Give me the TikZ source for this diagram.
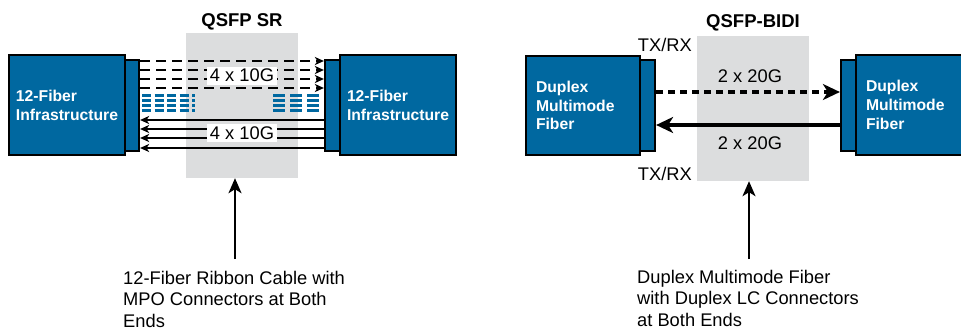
\documentclass[tikz,border=0pt]{standalone}
\usepackage{fontspec}
\setmainfont{Liberation Sans}
\usetikzlibrary{arrows.meta}
\definecolor{cblue}{RGB}{0,104,160}
\definecolor{cgray}{RGB}{220,221,222}
\begin{document}
\begin{tikzpicture}[x=1pt,y=-1pt,
  bigbox/.style={draw=black, line width=2.2pt, fill=cblue, text=white,
    font=\fontsize{15.7}{18.8}\selectfont\bfseries, align=left, inner ysep=0pt},
  connbox/.style={draw=black, line width=2.2pt, fill=cblue, inner sep=0pt},
  grayzone/.style={fill=cgray, draw=none, inner sep=0pt},
  titletext/.style={font=\fontsize{18.5}{20}\selectfont\bfseries, inner sep=0pt, anchor=base},
  plaintext/.style={font=\fontsize{18.3}{21.5}\selectfont, inner sep=0pt},
  ratelabel/.style={plaintext, fill=white, inner xsep=3pt, inner ysep=3pt, text height=12pt, text depth=0pt},
  thindash/.style={line width=2.3pt, dash pattern=on 10pt off 6pt, -{Stealth[length=9pt,width=8pt,inset=2.5pt]}},
  thinsolid/.style={line width=2.3pt, -{Stealth[length=9pt,width=8pt,inset=2.5pt]}},
  bluefiberA/.style={draw=cblue, line width=2.4pt, dash pattern=on 9pt off 3.5pt},
  bluefiberB/.style={draw=cblue, line width=2.4pt, dash pattern=on 12pt off 5pt},
  thickdash/.style={line width=4pt, dash pattern=on 7pt off 5pt, -{Stealth[length=17pt,width=16pt,inset=5pt]}},
  thicksolid/.style={line width=4pt, -{Stealth[length=17pt,width=16pt,inset=5pt]}},
  uparrow/.style={line width=2pt, -{Stealth[length=15pt,width=13pt,inset=4pt]}}
]
\clip (0,0) rectangle (961,330);

% ---------- left: QSFP SR ----------
\node[grayzone, minimum width=112pt, minimum height=145pt] (G1) at (242,105.5) {};
\node[titletext] (T1) at (242,26) {QSFP SR};

\node[connbox, minimum width=14pt, minimum height=91pt] (L1c) at (132,105.5) {};
\node[connbox, minimum width=15pt, minimum height=91pt] (R1c) at (332.5,105.5) {};

\foreach \yy in {61,70,79,88}
  \draw[thindash] (L1c.east |- 0,\yy) -- (R1c.west |- 0,\yy);
\foreach \yy in {120,129,138,148}
  \draw[thinsolid] (R1c.west |- 0,\yy) -- (L1c.east |- 0,\yy);
\foreach \yy in {95.5,100.5,105.5,110.5}{
  \draw[bluefiberA] ([xshift=2pt]L1c.east |- 0,\yy) -- (195,\yy);
  \draw[bluefiberB] (273,\yy) -- ([xshift=1pt]R1c.west |- 0,\yy);
}

\node[connbox, minimum width=14pt, minimum height=91pt] at (L1c) {};
\node[connbox, minimum width=15pt, minimum height=91pt] at (R1c) {};

\node[bigbox, minimum width=116pt, minimum height=100pt, text width=102pt, inner xsep=7pt]
  (L1) at (67,105) {12-Fiber\\Infrastructure};
\node[bigbox, minimum width=116pt, minimum height=100pt, text width=102pt, inner xsep=7pt]
  (R1) at (398,105) {12-Fiber\\Infrastructure};

\node[ratelabel] (r1) at (242,75.5) {4 x 10G};
\node[ratelabel] (r2) at (242,133.3) {4 x 10G};

\coordinate (a1) at (235,259);
\draw[uparrow] (a1) -- ([xshift=-7pt]G1.south);
\node[plaintext, anchor=north west, align=left] (c1) at (123,271)
  {12-Fiber Ribbon Cable with\\MPO Connectors at Both\\Ends};

% ---------- right: QSFP-BIDI ----------
\node[grayzone, minimum width=112pt, minimum height=145pt] (G2) at (753,108.5) {};
\node[titletext] (T2) at (753,27.3) {QSFP-BIDI};

\node[connbox, minimum width=15pt, minimum height=91pt] (L2c) at (647.5,105.5) {};
\node[connbox, minimum width=15pt, minimum height=91pt] (R2c) at (848.5,105.5) {};

\draw[thickdash] (L2c.east |- 0,92) -- (R2c.west |- 0,92);
\draw[thicksolid] (R2c.west |- 0,125) -- (L2c.east |- 0,125);

\node[bigbox, minimum width=114pt, minimum height=99pt, text width=94pt, inner xsep=10pt]
  (L2) at (583,105.5) {Duplex\\Multimode\\Fiber};
\node[bigbox, minimum width=119pt, minimum height=100pt, text width=99pt, inner xsep=10pt]
  (R2) at (915.5,105) {Duplex\\Multimode\\Fiber};

\node[plaintext] (q1) at (750,76) {2 x 20G};
\node[plaintext] (q2) at (750,143) {2 x 20G};
\node[plaintext, anchor=east] (tx1) at (692,45) {TX/RX};
\node[plaintext, anchor=east] (tx2) at (692,174) {TX/RX};

\coordinate (a2) at (749,259);
\draw[uparrow] (a2) -- ([xshift=-4pt]G2.south);
\node[plaintext, anchor=north west, align=left] (c2) at (637,270)
  {Duplex Multimode Fiber\\with Duplex LC Connectors\\at Both Ends};
\end{tikzpicture}
\end{document}
